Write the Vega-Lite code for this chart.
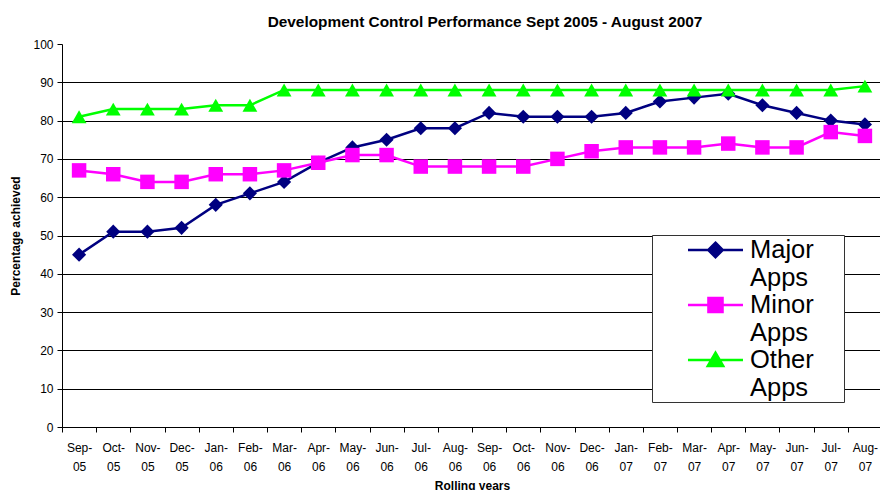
{
  "$schema": "https://vega.github.io/schema/vega-lite/v6.json",
  "width": 820,
  "height": 383,
  "autosize": {"type": "none"},
  "padding": {"left": 62, "top": 44, "right": 0, "bottom": 63},
  "background": "white",
  "title": {"text": "Development Control Performance Sept 2005 - August 2007", "font": "Liberation Sans", "fontSize": 15.4, "fontWeight": "bold", "color": "black", "anchor": "middle", "dx": 13, "offset": 8},
  "config": {"view": {"stroke": null}, "font": "Liberation Sans"},
  "data": {"values": [
    {"month": "Sep-05", "series": "Major Apps", "value": 45},
    {"month": "Oct-05", "series": "Major Apps", "value": 51},
    {"month": "Nov-05", "series": "Major Apps", "value": 51},
    {"month": "Dec-05", "series": "Major Apps", "value": 52},
    {"month": "Jan-06", "series": "Major Apps", "value": 58},
    {"month": "Feb-06", "series": "Major Apps", "value": 61},
    {"month": "Mar-06", "series": "Major Apps", "value": 64},
    {"month": "Apr-06", "series": "Major Apps", "value": 69},
    {"month": "May-06", "series": "Major Apps", "value": 73},
    {"month": "Jun-06", "series": "Major Apps", "value": 75},
    {"month": "Jul-06", "series": "Major Apps", "value": 78},
    {"month": "Aug-06", "series": "Major Apps", "value": 78},
    {"month": "Sep-06", "series": "Major Apps", "value": 82},
    {"month": "Oct-06", "series": "Major Apps", "value": 81},
    {"month": "Nov-06", "series": "Major Apps", "value": 81},
    {"month": "Dec-06", "series": "Major Apps", "value": 81},
    {"month": "Jan-07", "series": "Major Apps", "value": 82},
    {"month": "Feb-07", "series": "Major Apps", "value": 85},
    {"month": "Mar-07", "series": "Major Apps", "value": 86},
    {"month": "Apr-07", "series": "Major Apps", "value": 87},
    {"month": "May-07", "series": "Major Apps", "value": 84},
    {"month": "Jun-07", "series": "Major Apps", "value": 82},
    {"month": "Jul-07", "series": "Major Apps", "value": 80},
    {"month": "Aug-07", "series": "Major Apps", "value": 79},
    {"month": "Sep-05", "series": "Minor Apps", "value": 67},
    {"month": "Oct-05", "series": "Minor Apps", "value": 66},
    {"month": "Nov-05", "series": "Minor Apps", "value": 64},
    {"month": "Dec-05", "series": "Minor Apps", "value": 64},
    {"month": "Jan-06", "series": "Minor Apps", "value": 66},
    {"month": "Feb-06", "series": "Minor Apps", "value": 66},
    {"month": "Mar-06", "series": "Minor Apps", "value": 67},
    {"month": "Apr-06", "series": "Minor Apps", "value": 69},
    {"month": "May-06", "series": "Minor Apps", "value": 71},
    {"month": "Jun-06", "series": "Minor Apps", "value": 71},
    {"month": "Jul-06", "series": "Minor Apps", "value": 68},
    {"month": "Aug-06", "series": "Minor Apps", "value": 68},
    {"month": "Sep-06", "series": "Minor Apps", "value": 68},
    {"month": "Oct-06", "series": "Minor Apps", "value": 68},
    {"month": "Nov-06", "series": "Minor Apps", "value": 70},
    {"month": "Dec-06", "series": "Minor Apps", "value": 72},
    {"month": "Jan-07", "series": "Minor Apps", "value": 73},
    {"month": "Feb-07", "series": "Minor Apps", "value": 73},
    {"month": "Mar-07", "series": "Minor Apps", "value": 73},
    {"month": "Apr-07", "series": "Minor Apps", "value": 74},
    {"month": "May-07", "series": "Minor Apps", "value": 73},
    {"month": "Jun-07", "series": "Minor Apps", "value": 73},
    {"month": "Jul-07", "series": "Minor Apps", "value": 77},
    {"month": "Aug-07", "series": "Minor Apps", "value": 76},
    {"month": "Sep-05", "series": "Other Apps", "value": 81},
    {"month": "Oct-05", "series": "Other Apps", "value": 83},
    {"month": "Nov-05", "series": "Other Apps", "value": 83},
    {"month": "Dec-05", "series": "Other Apps", "value": 83},
    {"month": "Jan-06", "series": "Other Apps", "value": 84},
    {"month": "Feb-06", "series": "Other Apps", "value": 84},
    {"month": "Mar-06", "series": "Other Apps", "value": 88},
    {"month": "Apr-06", "series": "Other Apps", "value": 88},
    {"month": "May-06", "series": "Other Apps", "value": 88},
    {"month": "Jun-06", "series": "Other Apps", "value": 88},
    {"month": "Jul-06", "series": "Other Apps", "value": 88},
    {"month": "Aug-06", "series": "Other Apps", "value": 88},
    {"month": "Sep-06", "series": "Other Apps", "value": 88},
    {"month": "Oct-06", "series": "Other Apps", "value": 88},
    {"month": "Nov-06", "series": "Other Apps", "value": 88},
    {"month": "Dec-06", "series": "Other Apps", "value": 88},
    {"month": "Jan-07", "series": "Other Apps", "value": 88},
    {"month": "Feb-07", "series": "Other Apps", "value": 88},
    {"month": "Mar-07", "series": "Other Apps", "value": 88},
    {"month": "Apr-07", "series": "Other Apps", "value": 88},
    {"month": "May-07", "series": "Other Apps", "value": 88},
    {"month": "Jun-07", "series": "Other Apps", "value": 88},
    {"month": "Jul-07", "series": "Other Apps", "value": 88},
    {"month": "Aug-07", "series": "Other Apps", "value": 89}
  ]},
  "encoding": {
    "x": {
      "field": "month", "type": "ordinal", "sort": null,
      "scale": {"paddingInner": 0, "paddingOuter": 0},
      "axis": {
        "title": "Rolling years", "titleFont": "Liberation Sans", "titleFontSize": 12, "titleFontWeight": "bold", "titleColor": "black", "titlePadding": 8,
        "labelAngle": 0, "labelExpr": "[slice(datum.label,0,4), slice(datum.label,4)]",
        "labelFont": "Liberation Sans", "labelFontSize": 12, "labelColor": "black", "labelLineHeight": 19, "labelPadding": 10, "labelBaseline": "top",
        "tickBand": "extent", "tickSize": 5, "tickColor": "black", "domainColor": "black", "domainWidth": 1, "grid": false
      }
    },
    "y": {
      "field": "value", "type": "quantitative",
      "scale": {"domain": [0, 100], "nice": false},
      "axis": {
        "title": "Percentage achieved", "titleFont": "Liberation Sans", "titleFontSize": 12, "titleFontWeight": "bold", "titleColor": "black", "titlePadding": 10,
        "values": [0, 10, 20, 30, 40, 50, 60, 70, 80, 90, 100],
        "labelFont": "Liberation Sans", "labelFontSize": 12, "labelColor": "black", "labelPadding": 4,
        "tickSize": 5, "tickColor": "black", "domainColor": "black",
        "grid": true, "gridColor": "black", "gridWidth": 1,
        "gridOpacity": {"condition": {"test": "datum.value >= 100", "value": 0}, "value": 1}
      }
    },
    "color": {
      "field": "series", "type": "nominal",
      "scale": {"domain": ["Major Apps", "Minor Apps", "Other Apps"], "range": ["#000080", "#FF00FF", "#00FF00"]},
      "legend": {
        "title": null, "orient": "none", "legendX": 590, "legendY": 191,
        "strokeColor": "#333333", "fillColor": "white", "padding": 1,
        "labelFont": "Liberation Sans", "labelFontSize": 25.5, "labelColor": "black",
        "labelExpr": "[split(datum.label, ' ')[0] + '\u00a0\u00a0\u00a0\u00a0\u200b', split(datum.label, ' ')[1]]", "labelLineHeight": 27, "labelBaseline": "middle",
        "labelOffset": 6, "symbolSize": 7744, "symbolStrokeWidth": 2.5, "rowPadding": 0, "clipHeight": 52,
        "encode": {
          "symbols": {"update": {
            "shape": {"signal": "datum.value === 'Major Apps' ? 'M-0.239,-0.273H1.011M0.386,-0.438L0.551,-0.273L0.386,-0.108L0.221,-0.273Z' : datum.value === 'Minor Apps' ? 'M-0.239,-0.273H1.011M0.226,-0.433H0.546V-0.113H0.226Z' : 'M-0.239,-0.273H1.011M0.386,-0.438L0.561,-0.138L0.211,-0.138Z'"},
            "fill": {"scale": "color", "field": "value"},
            "stroke": {"scale": "color", "field": "value"},
            "strokeWidth": {"value": 2.5},
            "opacity": {"value": 1}
          }},
          "labels": {"update": {"dy": {"value": -12}}}
        }
      }
    }
  },
  "layer": [
    {"mark": {"type": "line", "strokeWidth": 2.5}},
    {"transform": [{"filter": "datum.series === 'Major Apps'"}], "mark": {"type": "point", "filled": true, "opacity": 1, "shape": "diamond", "size": 200}},
    {"transform": [{"filter": "datum.series === 'Minor Apps'"}], "mark": {"type": "point", "filled": true, "opacity": 1, "shape": "square", "size": 210}},
    {"transform": [{"filter": "datum.series === 'Other Apps'"}], "mark": {"type": "point", "filled": true, "opacity": 1, "shape": "triangle-up", "size": 220}}
  ]
}
